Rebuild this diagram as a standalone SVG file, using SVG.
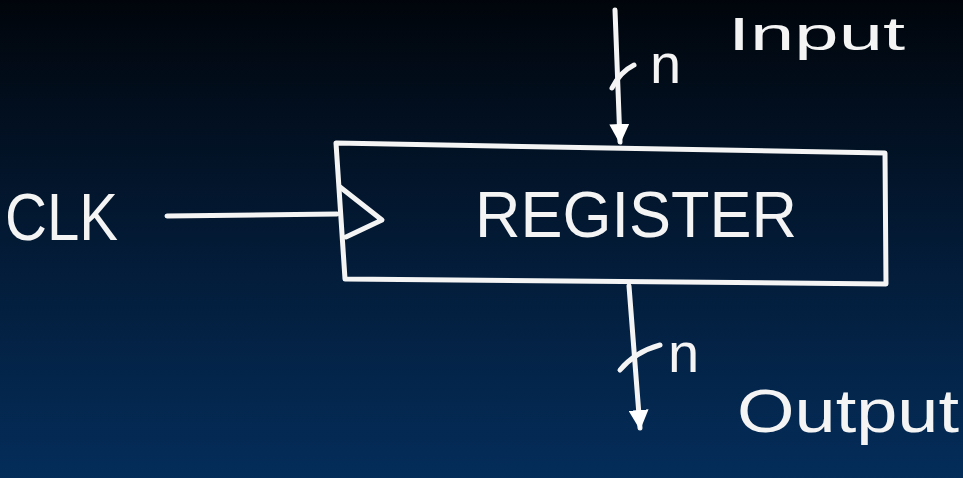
<svg xmlns="http://www.w3.org/2000/svg" width="963" height="478" viewBox="0 0 963 478">
  <defs>
    <linearGradient id="bg" x1="0" y1="0" x2="0" y2="1">
      <stop offset="0" stop-color="#01050b"/>
      <stop offset="0.5" stop-color="#031a35"/>
      <stop offset="1" stop-color="#042d5a"/>
    </linearGradient>
    <marker id="head" viewBox="0 0 10 10" refX="9" refY="5" markerWidth="4" markerHeight="4" orient="auto" markerUnits="strokeWidth">
      <path d="M0,0 L10,5 L0,10 Z" fill="#ffffff"/>
    </marker>
    <style>
      .chalk { fill: none; stroke: #f4f4f4; stroke-width: 5; stroke-linecap: round; stroke-linejoin: round; }
      .txt { fill: #f4f4f4; font-family: "Liberation Sans", "DejaVu Sans", sans-serif; }
    </style>
  </defs>
  <rect x="0" y="0" width="963" height="478" fill="url(#bg)"/>

  <g id="register">
    <path class="chalk" d="M336,143 L885,153 L886,284 L345,279 Z"/>
    <path class="chalk" d="M340,187 L382,220 L346,237"/>
    <text class="txt" x="475" y="237" font-size="64" textLength="322" lengthAdjust="spacingAndGlyphs">REGISTER</text>
  </g>

  <g id="clk">
    <text class="txt" x="5" y="240" font-size="66" textLength="113" lengthAdjust="spacingAndGlyphs">CLK</text>
  </g>

  <g id="input">
    <text class="txt" x="728" y="50" font-size="46" textLength="177" lengthAdjust="spacingAndGlyphs">Input</text>
  </g>

  <g id="output">
    <text class="txt" x="737" y="432" font-size="62" textLength="222" lengthAdjust="spacingAndGlyphs">Output</text>
  </g>

  <g id="connectors">
    <path class="chalk" d="M615,10 L620,142" marker-end="url(#head)"/>
    <path class="chalk" d="M167,216 L337,214"/>
    <path class="chalk" d="M612,88 Q620,72 634,65"/>
    <text class="txt" x="650" y="83" font-size="56">n</text>
    <path class="chalk" d="M629,286 L640,428" marker-end="url(#head)"/>
    <path class="chalk" d="M620,370 Q635,352 660,345"/>
    <text class="txt" x="668" y="372" font-size="56">n</text>
  </g>
</svg>
